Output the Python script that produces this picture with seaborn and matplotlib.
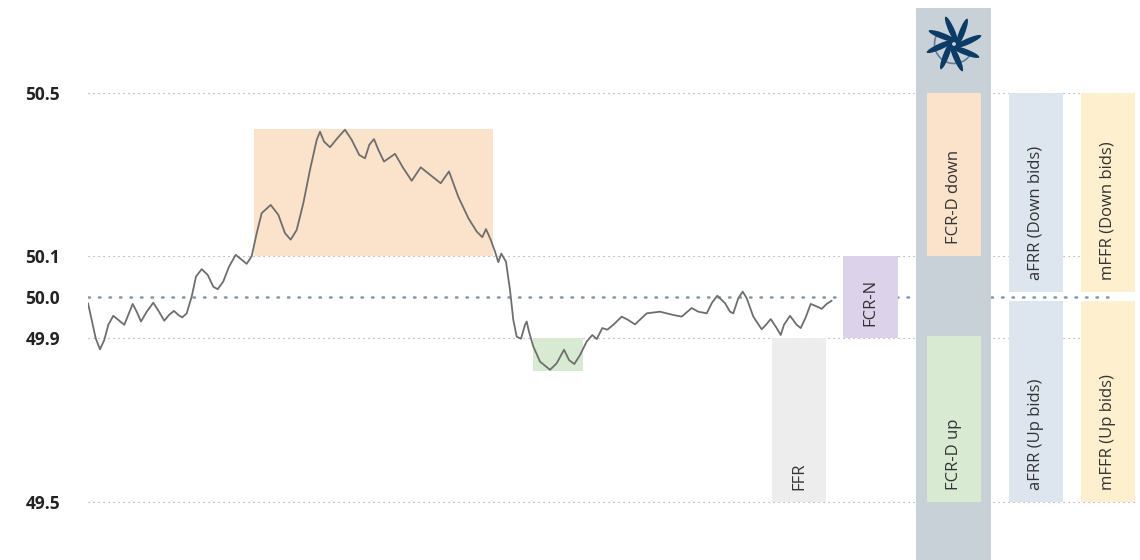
import matplotlib
matplotlib.use('Agg')

import numpy as np
import pandas as pd
import matplotlib.pyplot as plt
from matplotlib.patches import Rectangle, Ellipse, Arc
import seaborn as sns

# frequency trace (time in s, frequency in Hz)
time = [0, 3.7, 7.7, 12, 16.3, 20.3, 25.3, 30.3, 36.3, 40.3, 44.7, 48.7, 53,
        58.7, 65.3, 71, 76.3, 81, 86, 90.3, 94.3, 98.7, 103.7, 108, 113.7,
        119.7, 125.3, 129.7, 135.3, 141, 147.7, 153.7, 158.7, 163.7, 168.7,
        173.7, 182.7, 190.3, 197, 202.7, 208.7, 215.3, 222, 228.7, 232, 236,
        242, 249.3, 257, 263.7, 271.3, 277, 281.3, 286, 290.3, 296, 307, 315.3,
        323.7, 332.7, 342, 352.7, 361, 370.3, 380.3, 388.7, 394.3, 398, 402.7,
        407, 410.3, 413.3, 418, 422, 425.3, 428.7, 433, 437, 438.7, 441, 445.3,
        452, 462, 468.7, 476, 481, 486.3, 492, 498.7, 504.3, 508.7, 514.3,
        519.3, 525.3, 533.7, 540, 547, 558.7, 572, 585.3, 593.7, 603.7, 610.3,
        618.7, 624, 629.3, 637, 642, 645.3, 650.3, 654.7, 658.7, 665.3, 673.7,
        678, 682.7, 688.7, 692.7, 696, 702, 708.7, 712.7, 718, 722.7, 728.7,
        733.7, 738.7, 743.7]
freq = [49.986, 49.945, 49.900, 49.873, 49.896, 49.933, 49.955, 49.945, 49.933,
        49.957, 49.984, 49.965, 49.941, 49.965, 49.987, 49.965, 49.943, 49.957,
        49.967, 49.957, 49.951, 49.961, 50.002, 50.051, 50.069, 50.055, 50.026,
        50.020, 50.039, 50.075, 50.104, 50.092, 50.082, 50.101, 50.157, 50.206,
        50.226, 50.202, 50.157, 50.141, 50.165, 50.230, 50.312, 50.385, 50.405,
        50.381, 50.367, 50.389, 50.410, 50.385, 50.348, 50.340, 50.373, 50.387,
        50.361, 50.332, 50.351, 50.316, 50.285, 50.318, 50.300, 50.279, 50.308,
        50.246, 50.194, 50.161, 50.147, 50.167, 50.141, 50.112, 50.086, 50.107,
        50.087, 50.018, 49.945, 49.904, 49.899, 49.933, 49.941, 49.916, 49.880,
        49.843, 49.823, 49.839, 49.872, 49.847, 49.837, 49.859, 49.892, 49.908,
        49.898, 49.925, 49.921, 49.933, 49.953, 49.945, 49.934, 49.961, 49.965,
        49.957, 49.953, 49.974, 49.965, 49.961, 49.987, 50.004, 49.986, 49.965,
        49.961, 49.998, 50.014, 49.998, 49.953, 49.922, 49.933, 49.947, 49.925,
        49.908, 49.933, 49.955, 49.933, 49.925, 49.953, 49.984, 49.978, 49.972,
        49.984, 49.992]

# reserve products: label, time span, frequency range, colour
products = ['', '', 'FFR', 'FCR-N', 'FCR-D down', 'FCR-D up',
            'aFRR (Down bids)', 'aFRR (Up bids)', 'mFFR (Down bids)', 'mFFR (Up bids)']
x_from = [166, 445, 684, 755, 839, 839, 921, 921, 993, 993]
x_to = [405, 495, 738, 810, 893, 893, 975, 975, 1047, 1047]
f_low = [50.10, 49.82, 49.50, 49.90, 50.10, 49.50, 50.012, 49.50, 50.012, 49.50]
f_high = [50.412, 49.90, 49.90, 50.10, 50.50, 49.905, 50.50, 49.990, 50.50, 49.990]
colors = ['#fbe3cb', '#d9ead3', '#ededed', '#dcd3ea', '#fbe3cb', '#d9ead3',
          '#dde6ee', '#dde6ee', '#fef0cf', '#fef0cf']

ticks = [49.5, 49.9, 50.0, 50.1, 50.5]
tick_labels = ['49.5', '49.9', '50.0', '50.1', '50.5']

sns.set_theme(style='white')
plt.rcParams['font.family'] = ['Open Sans', 'DejaVu Sans']

fig = plt.figure(figsize=(11.4, 5.6), dpi=100)
ax = fig.add_axes([88 / 1140, 0, 1 - 88 / 1140, 1])
ax.set_xlim(0, 1052)
ax.set_ylim(49.358, 50.727)

# grid lines
for t in ticks:
    if t == 50.0:
        ax.plot([0, 1029], [t, t], color='#7f97a6', lw=1.8,
                linestyle=(0, (0.6, 3.6)), dash_capstyle='round', zorder=1)
    else:
        ax.plot([0, 1047], [t, t], color='#9a9a9a', lw=0.8,
                linestyle=(0, (1, 3.5)), zorder=1)

# dark column behind FCR-D
ax.add_patch(Rectangle((828, 49.30), 75, 50.708 - 49.30,
                       facecolor='#c8d0d8', edgecolor='none', zorder=2))

for lab, x0, x1, lo, hi, c in zip(products, x_from, x_to, f_low, f_high, colors):
    ax.add_patch(Rectangle((x0, lo), x1 - x0, hi - lo, facecolor=c,
                           edgecolor='none', zorder=3))
    if lab:
        ax.text((x0 + x1) / 2, lo + 0.03, lab, rotation=90, ha='center',
                va='bottom', fontsize=12, color='#333333', zorder=5)

df = pd.DataFrame({'time': time, 'freq': freq})
sns.lineplot(data=df, x='time', y='freq', ax=ax, color='#6e6e6e', lw=1.3,
             zorder=4, solid_joinstyle='round')

ax.set_yticks(ticks)
ax.set_yticklabels(tick_labels, fontweight='bold', fontsize=12.5, color='#222222')
ax.tick_params(axis='y', length=0, pad=20)
ax.set_xticks([])
ax.set_xlabel('')
ax.set_ylabel('')
for s in ax.spines.values():
    s.set_visible(False)

# pinwheel logo
lax = fig.add_axes([924 / 1140, 1 - 74 / 560, 60 / 1140, 60 / 560])
lax.set_xlim(-1, 1)
lax.set_ylim(-1, 1)
lax.set_aspect('equal')
lax.axis('off')
lax.add_patch(Arc((0, 0), 1.3, 1.3, theta1=140, theta2=330, color='#5f7d9c', lw=1.2))
for k in range(8):
    a = np.deg2rad(k * 45 + 10)
    cx, cy = 0.46 * np.cos(a), 0.46 * np.sin(a)
    lax.add_patch(Ellipse((cx, cy), 1.0, 0.2, angle=np.rad2deg(a) + 14,
                          facecolor='#0c3b66', edgecolor='none'))

fig.savefig('out.png', dpi=100)
